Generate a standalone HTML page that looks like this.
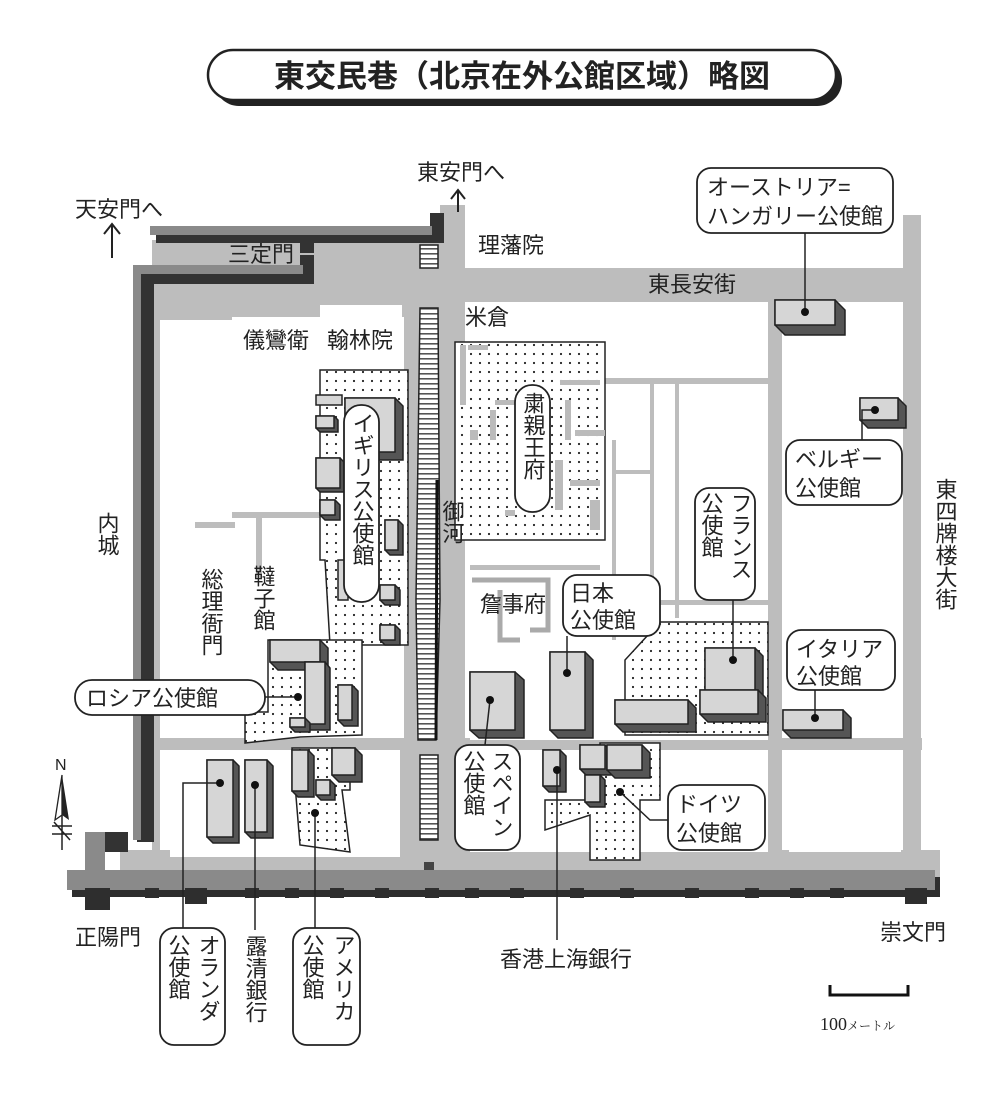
<!DOCTYPE html>
<html><head><meta charset="utf-8"><style>
html,body{margin:0;padding:0;background:#fff;}
svg text{font-family:"Liberation Sans","Noto Sans CJK JP",sans-serif;fill:#222;}
.v{writing-mode:vertical-rl;}
</style></head><body>
<svg width="1000" height="1100" viewBox="0 0 1000 1100" xmlns="http://www.w3.org/2000/svg">
<defs>
<pattern id="dots" width="9" height="9" patternUnits="userSpaceOnUse">
<rect width="9" height="9" fill="#fff"/><circle cx="3" cy="3" r="1.1" fill="#222"/>
</pattern>
<pattern id="hatch" width="10" height="5" patternUnits="userSpaceOnUse">
<rect width="10" height="5" fill="#fff"/><rect y="3" width="10" height="1.6" fill="#555"/>
</pattern>
</defs>

<!-- Title -->
<rect x="214" y="56" width="628" height="50" rx="25" fill="#222"/>
<rect x="208" y="50" width="628" height="50" rx="25" fill="#fff" stroke="#222" stroke-width="2.5"/>
<text x="522" y="87" font-size="31" text-anchor="middle" fill="#111" font-weight="bold">東交民巷（北京在外公館区域）略図</text>

<!-- gray road base -->
<g fill="#bdbdbd">
<rect x="152" y="240" width="290" height="80"/>
<rect x="440" y="205" width="25" height="660"/>
<rect x="400" y="300" width="65" height="560"/>
<rect x="460" y="268" width="460" height="34"/>
<rect x="903" y="215" width="18" height="660"/>
<rect x="152" y="310" width="8" height="550"/>
<rect x="120" y="850" width="820" height="28"/>
<rect x="152" y="738" width="770" height="12"/>
<rect x="768" y="295" width="14" height="570"/>
</g>
<!-- white blocks -->
<g fill="#fff">
<rect x="160" y="330" width="35" height="92"/>
<rect x="202" y="330" width="27" height="92"/>
<rect x="160" y="429" width="35" height="92"/>
<rect x="202" y="429" width="27" height="92"/>
<rect x="160" y="528" width="35" height="210"/>
<rect x="202" y="548" width="27" height="190"/>
<rect x="232" y="317" width="172" height="195"/>
<rect x="320" y="305" width="82" height="20"/>
<rect x="236" y="518" width="20" height="220"/>
<rect x="262" y="518" width="142" height="220"/>
<rect x="170" y="757" width="230" height="100"/>
<rect x="470" y="305" width="298" height="30"/>
<rect x="470" y="340" width="298" height="400"/>
<rect x="470" y="752" width="298" height="100"/>
<rect x="789" y="305" width="112" height="433"/>
<rect x="789" y="752" width="112" height="100"/>
<rect x="468" y="215" width="435" height="50"/>
</g>
<g fill="#bdbdbd">
<rect x="605" y="378" width="165" height="6"/>
<rect x="612" y="440" width="4" height="200"/>
<rect x="650" y="378" width="4" height="230"/>
<rect x="612" y="470" width="40" height="4"/>
<rect x="675" y="378" width="4" height="240"/>
<rect x="660" y="600" width="110" height="5"/>
<rect x="470" y="565" width="130" height="5"/>
<rect x="232" y="512" width="172" height="6"/>
<rect x="256" y="518" width="6" height="60"/>
<rect x="195" y="522" width="40" height="6"/>
</g>

<!-- river -->
<path d="M420,308 L438,308 L440,600 L436,740 L418,740 L416,600 Z" fill="url(#hatch)" stroke="#222" stroke-width="1.5"/>
<path d="M420,245 L438,245 L438,268 L420,268 Z" fill="url(#hatch)" stroke="#222" stroke-width="1.5"/>
<path d="M420,755 L438,755 L438,840 L420,840 Z" fill="url(#hatch)" stroke="#222" stroke-width="1.5"/>
<path d="M437,480 L436,740" stroke="#111" stroke-width="3"/>
<rect x="424" y="862" width="10" height="12" fill="#444"/>

<!-- walls -->
<g fill="#333">
<rect x="156" y="230" width="286" height="13"/>
<rect x="430" y="213" width="14" height="30"/>
<rect x="300" y="243" width="14" height="10"/>
<rect x="137" y="268" width="177" height="16"/>
<rect x="300" y="255" width="14" height="25"/>
<rect x="137" y="268" width="17" height="574"/>
<rect x="103" y="832" width="25" height="20"/>
</g>
<g fill="#8a8a8a">
<rect x="150" y="226" width="282" height="9"/>
<rect x="133" y="265" width="170" height="9"/>
<rect x="133" y="265" width="8" height="575"/>
</g>
<!-- bottom wall -->
<rect x="72" y="877" width="868" height="20" fill="#2e2e2e"/>
<rect x="67" y="870" width="868" height="20" fill="#8a8a8a"/>
<rect x="85" y="832" width="20" height="50" fill="#8a8a8a"/>
<g fill="#2e2e2e">
<rect x="85" y="888" width="25" height="22"/><rect x="145" y="888" width="14" height="10"/>
<rect x="185" y="888" width="22" height="16"/><rect x="245" y="888" width="14" height="10"/>
<rect x="285" y="888" width="14" height="10"/><rect x="330" y="888" width="14" height="10"/>
<rect x="375" y="888" width="14" height="10"/><rect x="425" y="888" width="14" height="10"/>
<rect x="465" y="888" width="14" height="10"/><rect x="510" y="888" width="14" height="10"/>
<rect x="570" y="888" width="14" height="10"/><rect x="620" y="888" width="14" height="10"/>
<rect x="685" y="888" width="14" height="10"/><rect x="745" y="888" width="14" height="10"/>
<rect x="790" y="888" width="14" height="10"/><rect x="830" y="888" width="14" height="10"/>
<rect x="905" y="888" width="22" height="16"/>
</g>

<!-- compounds -->
<g stroke="#222" stroke-width="1.5">
<path d="M320,370 L408,370 L408,645 L330,645 L325,560 L320,560 Z" fill="url(#dots)"/>
<path d="M455,342 L605,342 L605,540 L455,540 Z" fill="url(#dots)"/>
<path d="M660,622 L768,622 L768,735 L625,735 L625,660 Z" fill="url(#dots)"/>
<path d="M268,640 L362,640 L362,735 L300,737 L245,743 L245,712 L268,712 Z" fill="url(#dots)"/>
<path d="M292,748 L350,748 L350,790 L342,790 L350,852 L300,845 Z" fill="url(#dots)"/>
<path d="M600,743 L660,743 L660,800 L640,800 L640,860 L590,860 L590,815 L545,830 L545,800 L600,800 Z" fill="url(#dots)"/>
</g>
<g fill="none" stroke="#aaa" stroke-width="5">
<path d="M472,580 L548,580 L548,630 L530,630"/>
<path d="M500,590 L500,640 L520,640"/>
</g>
<g fill="#bbb">
<rect x="460" y="345" width="6" height="60"/><rect x="468" y="345" width="20" height="5"/>
<rect x="495" y="400" width="25" height="5"/><rect x="490" y="410" width="6" height="30"/>
<rect x="560" y="380" width="40" height="5"/><rect x="565" y="400" width="6" height="40"/>
<rect x="575" y="430" width="30" height="6"/><rect x="555" y="460" width="8" height="50"/>
<rect x="570" y="480" width="30" height="6"/><rect x="590" y="500" width="10" height="30"/>
<rect x="505" y="510" width="10" height="6"/><rect x="470" y="430" width="8" height="10"/>
</g>

<!-- buildings -->
<g stroke="#222" stroke-width="1.5">
<path d="M775,300 L835,300 L845,310 L845,335 L785,335 L775,325 Z" fill="#555"/><rect x="775" y="300" width="60" height="25" fill="#d6d6d6"/>
<path d="M860,398 L898,398 L906,406 L906,428 L868,428 L860,420 Z" fill="#555"/><rect x="860" y="398" width="38" height="22" fill="#d6d6d6"/>
<path d="M783,710 L843,710 L851,718 L851,738 L791,738 L783,730 Z" fill="#555"/><rect x="783" y="710" width="60" height="20" fill="#d6d6d6"/>
<path d="M470,672 L515,672 L524,680 L524,738 L479,738 L470,730 Z" fill="#555"/><rect x="470" y="672" width="45" height="58" fill="#d6d6d6"/>
<path d="M550,652 L585,652 L593,660 L593,738 L558,738 L550,730 Z" fill="#555"/><rect x="550" y="652" width="35" height="78" fill="#d6d6d6"/>
<path d="M705,648 L755,648 L763,656 L763,700 L713,700 L705,692 Z" fill="#555"/><rect x="705" y="648" width="50" height="44" fill="#d6d6d6"/>
<path d="M700,690 L758,690 L766,698 L766,722 L708,722 L700,714 Z" fill="#555"/><rect x="700" y="690" width="58" height="24" fill="#d6d6d6"/>
<path d="M615,700 L688,700 L696,708 L696,732 L623,732 L615,724 Z" fill="#555"/><rect x="615" y="700" width="73" height="24" fill="#d6d6d6"/>
<path d="M207,760 L233,760 L239,766 L239,843 L213,843 L207,837 Z" fill="#555"/><rect x="207" y="760" width="26" height="77" fill="#d6d6d6"/>
<path d="M245,760 L267,760 L273,766 L273,838 L251,838 L245,832 Z" fill="#555"/><rect x="245" y="760" width="22" height="72" fill="#d6d6d6"/>
<path d="M292,750 L308,750 L314,756 L314,797 L298,797 L292,791 Z" fill="#555"/><rect x="292" y="750" width="16" height="41" fill="#d6d6d6"/>
<path d="M332,748 L355,748 L362,755 L362,782 L339,782 L332,775 Z" fill="#555"/><rect x="332" y="748" width="23" height="27" fill="#d6d6d6"/>
<path d="M316,780 L330,780 L335,785 L335,800 L321,800 L316,795 Z" fill="#555"/><rect x="316" y="780" width="14" height="15" fill="#d6d6d6"/>
<path d="M543,750 L560,750 L566,756 L566,792 L549,792 L543,786 Z" fill="#555"/><rect x="543" y="750" width="17" height="36" fill="#d6d6d6"/>
<path d="M580,745 L605,745 L611,751 L611,775 L586,775 L580,769 Z" fill="#555"/><rect x="580" y="745" width="25" height="24" fill="#d6d6d6"/>
<path d="M607,745 L642,745 L650,753 L650,778 L615,778 L607,770 Z" fill="#555"/><rect x="607" y="745" width="35" height="25" fill="#d6d6d6"/>
<path d="M585,775 L600,775 L605,780 L605,807 L590,807 L585,802 Z" fill="#555"/><rect x="585" y="775" width="15" height="27" fill="#d6d6d6"/>
<path d="M270,640 L320,640 L328,648 L328,670 L278,670 L270,662 Z" fill="#555"/><rect x="270" y="640" width="50" height="22" fill="#d6d6d6"/>
<path d="M305,662 L325,662 L330,668 L330,730 L310,730 L305,724 Z" fill="#555"/><rect x="305" y="662" width="20" height="62" fill="#d6d6d6"/>
<path d="M338,685 L352,685 L358,691 L358,726 L344,726 L338,720 Z" fill="#555"/><rect x="338" y="685" width="14" height="35" fill="#d6d6d6"/>
<path d="M290,718 L305,718 L310,723 L310,732 L295,732 L290,727 Z" fill="#555"/><rect x="290" y="718" width="15" height="9" fill="#d6d6d6"/>
<path d="M345,398 L395,398 L403,406 L403,460 L353,460 L345,452 Z" fill="#555"/><rect x="345" y="398" width="50" height="54" fill="#d6d6d6"/>
<path d="M316,395 L342,395 L342,405 L316,405 Z" fill="#d6d6d6"/>
<path d="M316,416 L334,416 L338,420 L338,432 L320,432 L316,428 Z" fill="#555"/><rect x="316" y="416" width="18" height="12" fill="#d6d6d6"/>
<path d="M316,458 L340,458 L344,462 L344,492 L320,492 L316,488 Z" fill="#555"/><rect x="316" y="458" width="24" height="30" fill="#d6d6d6"/>
<path d="M320,500 L335,500 L340,505 L340,520 L325,520 L320,515 Z" fill="#555"/><rect x="320" y="500" width="15" height="15" fill="#d6d6d6"/>
<path d="M385,520 L398,520 L403,525 L403,555 L390,555 L385,550 Z" fill="#555"/><rect x="385" y="520" width="13" height="30" fill="#d6d6d6"/>
<path d="M380,585 L395,585 L400,590 L400,605 L385,605 L380,600 Z" fill="#555"/><rect x="380" y="585" width="15" height="15" fill="#d6d6d6"/>
<path d="M380,625 L395,625 L400,630 L400,645 L385,645 L380,640 Z" fill="#555"/><rect x="380" y="625" width="15" height="15" fill="#d6d6d6"/>
<path d="M338,560 L348,560 L348,600 L338,600 Z" fill="#d6d6d6"/>
</g>

<!-- connectors -->
<g stroke="#222" stroke-width="1.5" fill="none">
<path d="M805,233 L805,312"/>
<path d="M862,440 L862,410 L875,410"/>
<path d="M733,600 L733,660"/>
<path d="M815,690 L815,718"/>
<path d="M567,636 L567,673"/>
<path d="M265,697 L298,697"/>
<path d="M490,700 L485,745"/>
<path d="M620,792 L650,820 L668,820"/>
<path d="M220,783 L183,783 L183,928"/>
<path d="M255,785 L255,930"/>
<path d="M315,813 L315,928"/>
<path d="M557,770 L557,940"/>
</g>
<g fill="#111">
<circle cx="805" cy="312" r="4"/><circle cx="875" cy="410" r="4"/><circle cx="733" cy="660" r="4"/>
<circle cx="815" cy="718" r="4"/><circle cx="567" cy="673" r="4"/><circle cx="298" cy="697" r="4"/>
<circle cx="490" cy="700" r="4"/><circle cx="620" cy="792" r="4"/><circle cx="220" cy="783" r="4"/>
<circle cx="255" cy="785" r="4"/><circle cx="315" cy="813" r="4"/><circle cx="557" cy="770" r="4"/>
</g>

<g fill="#fff" stroke="#222" stroke-width="1.8">
<rect x="697" y="168" width="196" height="65" rx="14"/>
<rect x="786" y="440" width="116" height="65" rx="14"/>
<rect x="695" y="488" width="60" height="112" rx="14"/>
<rect x="787" y="630" width="108" height="60" rx="14"/>
<rect x="563" y="575" width="97" height="61" rx="14"/>
<rect x="515" y="385" width="35" height="127" rx="17"/>
<rect x="344" y="405" width="35" height="197" rx="17"/>
<rect x="75" y="680" width="190" height="35" rx="17"/>
<rect x="455" y="745" width="65" height="105" rx="14"/>
<rect x="668" y="785" width="97" height="65" rx="14"/>
<rect x="160" y="928" width="65" height="117" rx="14"/>
<rect x="293" y="928" width="67" height="117" rx="14"/>
</g>

<g font-size="22">
<text x="707" y="195">オーストリア=</text>
<text x="707" y="224">ハンガリー公使館</text>
<text x="795" y="467">ベルギー</text>
<text x="795" y="496">公使館</text>
<text x="796" y="657">イタリア</text>
<text x="796" y="684">公使館</text>
<text x="570" y="601">日本</text>
<text x="570" y="628">公使館</text>
<text x="676" y="812">ドイツ</text>
<text x="676" y="841">公使館</text>
<text x="86" y="706">ロシア公使館</text>
<text class="v" x="740" y="492">フランス</text>
<text class="v" x="711" y="492">公使館</text>
<text class="v" x="533" y="392">粛親王府</text>
<text class="v" x="362" y="412">イギリス公使館</text>
<text class="v" x="501" y="750">スペイン</text>
<text class="v" x="473" y="750">公使館</text>
<text class="v" x="208" y="934">オランダ</text>
<text class="v" x="178" y="934">公使館</text>
<text class="v" x="343" y="934">アメリカ</text>
<text class="v" x="312" y="934">公使館</text>
<text class="v" x="255" y="935">露清銀行</text>
<text x="500" y="967">香港上海銀行</text>
<text x="75" y="217">天安門へ</text>
<text x="417" y="180">東安門へ</text>
<text x="228" y="262">三定門</text>
<text x="478" y="253">理藩院</text>
<text x="648" y="292">東長安街</text>
<text x="465" y="325">米倉</text>
<text x="243" y="348">儀鸞衛</text>
<text x="327" y="348">翰林院</text>
<text class="v" x="107" y="512">内城</text>
<text class="v" x="211" y="568">総理衙門</text>
<text class="v" x="263" y="565">韃子館</text>
<text class="v" x="452" y="500">御河</text>
<text x="480" y="612">詹事府</text>
<text class="v" x="945" y="478">東四牌楼大街</text>
<text x="75" y="945">正陽門</text>
<text x="880" y="940">崇文門</text>
</g>
<g stroke="#222" stroke-width="2" fill="none">
<path d="M112,258 L112,224 M104,234 L112,224 L120,234"/>
<path d="M458,212 L458,190 M451,199 L458,190 L465,199"/>
</g>
<path d="M830,985 L830,995 L908,995 L908,985" stroke="#111" stroke-width="3" fill="none"/>
<text x="820" y="1030" font-size="18" style="font-family:'Liberation Serif','Noto Serif CJK SC',serif">100<tspan font-size="12">メートル</tspan></text>
<text x="55" y="770" font-size="16">N</text>
<path d="M62,775 L55,820 L62,815 Z" fill="#fff" stroke="#222" stroke-width="1.3"/>
<path d="M62,775 L69,820 L62,815 Z" fill="#222"/>
<path d="M62,815 L62,850 M52,826 L72,826 M52,834 L72,834 M54,822 L70,840" stroke="#222" stroke-width="1.5"/>
</svg>
</body></html>
